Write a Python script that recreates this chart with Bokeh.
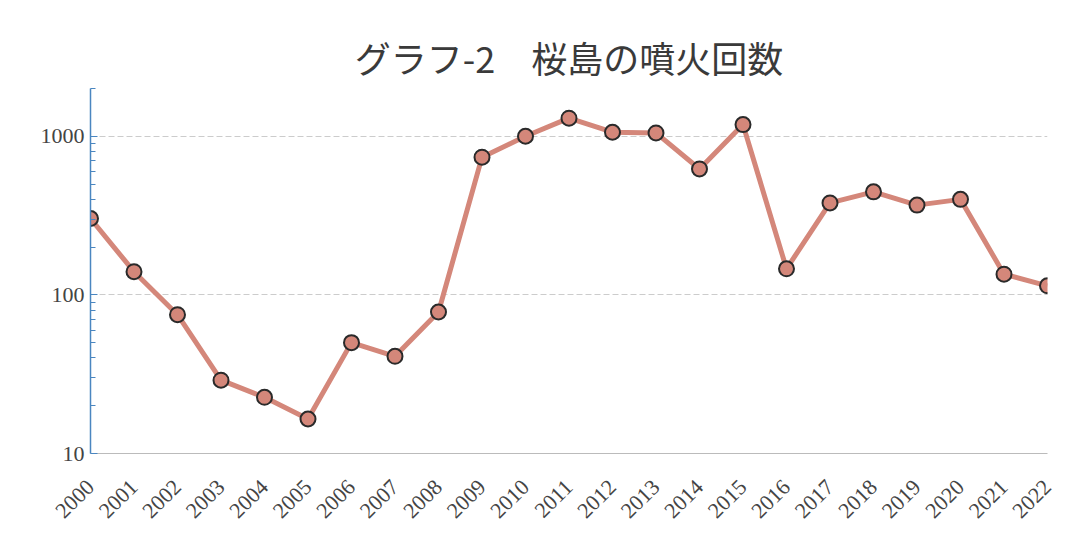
import math
from bokeh.plotting import figure
from bokeh.models import FixedTicker, Range1d, BasicTickFormatter
from bokeh.embed import file_html
from bokeh.resources import INLINE

years = list(range(2000, 2023))
year_labels = [str(y) for y in years]
eruptions = [303, 140, 75, 29, 22.6, 16.5, 50, 41, 78, 738, 1000, 1300, 1060, 1050,
             622, 1184, 146, 380, 446, 368, 400, 135, 114]

y_major = [10, 100, 1000]
y_minor = [20, 30, 40, 50, 60, 70, 80, 90, 200, 300, 400, 500, 600, 700, 800, 900, 2000]

p = figure(width=1067, height=530, y_axis_type="log",
           x_range=Range1d(2000, 2022), y_range=Range1d(10, 2000),
           output_backend="svg", toolbar_location=None,
           min_border_left=90, min_border_right=20, min_border_top=88, min_border_bottom=77)

p.title.text = "グラフ-2　桜島の噴火回数"
p.title.align = "center"
p.title.text_font = "Noto Sans CJK JP"
p.title.text_font_style = "normal"
p.title.text_font_size = "36px"
p.title.text_color = "#3a3a3a"
p.title.standoff = 12

p.outline_line_color = None
p.background_fill_color = "white"

# y axis
p.yaxis.ticker = FixedTicker(ticks=y_major, minor_ticks=y_minor)
p.yaxis.formatter = BasicTickFormatter(use_scientific=False)
p.yaxis.major_label_overrides = {10: "10", 100: "100", 1000: "1000"}
p.yaxis.axis_line_color = "#4a86c0"
p.yaxis.axis_line_width = 1.5
p.yaxis.major_tick_line_color = "#4a86c0"
p.yaxis.minor_tick_line_color = "#4a86c0"
p.yaxis.major_tick_in = 7
p.yaxis.major_tick_out = 0
p.yaxis.minor_tick_in = 5
p.yaxis.minor_tick_out = 0
p.yaxis.major_label_text_font = "Liberation Serif"
p.yaxis.major_label_text_font_size = "22px"
p.yaxis.major_label_text_color = "#444444"
p.yaxis.major_label_standoff = 6

# x axis
p.xaxis.ticker = FixedTicker(ticks=years)
p.xaxis.major_label_overrides = {y: s for y, s in zip(years, year_labels)}
p.xaxis.major_label_orientation = math.pi / 4
p.xaxis.axis_line_color = "#bbbbbb"
p.xaxis.major_tick_line_color = None
p.xaxis.minor_tick_line_color = None
p.xaxis.major_label_text_font = "Liberation Serif"
p.xaxis.major_label_text_font_size = "22px"
p.xaxis.major_label_text_color = "#444444"
p.xaxis.major_label_standoff = 24

# grid
p.xgrid.grid_line_color = None
p.ygrid.ticker = FixedTicker(ticks=[100, 1000])
p.ygrid.grid_line_color = "#cccccc"
p.ygrid.grid_line_dash = "6 3"
p.ygrid.grid_line_width = 1

p.line(years, eruptions, line_color="#d4877a", line_width=5)
p.scatter(years, eruptions, size=15, fill_color="#d4877a", line_color="#2a2a2a", line_width=2)

open("out.html", "w").write(file_html(p, INLINE))
